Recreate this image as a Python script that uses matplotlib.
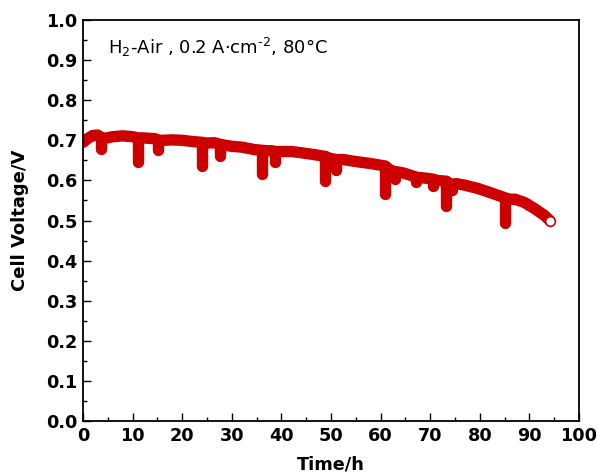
import matplotlib
matplotlib.use("Agg")
import matplotlib.pyplot as plt
from matplotlib.ticker import MultipleLocator, FormatStrFormatter

plt.rcParams['font.family'] = ['DejaVu Sans']
plt.rcParams['mathtext.fontset'] = 'dejavusans'
plt.rcParams['path.simplify'] = False

# main voltage trace (h, V)
time_h = [0, 1, 2, 3, 3.7, 4.8, 6, 8, 10, 11.1, 12.0, 14.5, 15.1, 16, 18, 20, 22, 23.9,
          24.8, 26.5, 27.6, 28.5, 30, 32, 34.5, 36.1, 37, 38, 38.7, 39.6, 42, 44, 46.8,
          48.7, 49.8, 51.1, 52.5, 55, 58, 60.9, 62, 62.9, 64, 65, 67.2, 68, 69.5, 70.6,
          71.3, 73.2, 74.0, 74.4, 75.2, 77, 79.6, 82, 85.0, 86, 87.1, 89, 91, 93, 94.1]
voltage_v = [0.695, 0.705, 0.712, 0.713, 0.705, 0.706, 0.709, 0.711, 0.709, 0.706, 0.706, 0.704, 0.700, 0.700, 0.701, 0.700, 0.697, 0.695,
             0.693, 0.694, 0.690, 0.688, 0.685, 0.683, 0.677, 0.675, 0.674, 0.674, 0.672, 0.672, 0.672, 0.669, 0.664,
             0.660, 0.655, 0.652, 0.652, 0.647, 0.642, 0.636, 0.625, 0.622, 0.620, 0.617, 0.608, 0.607, 0.605, 0.603,
             0.600, 0.598, 0.590, 0.590, 0.592, 0.588, 0.580, 0.570, 0.557, 0.553, 0.553, 0.545, 0.530, 0.513, 0.500]

# short voltage drops (refresh events): time, level before drop, minimum
dip_time = [3.7, 11.1, 15.1, 23.9, 27.6, 36.1, 38.7, 48.7, 51.1, 60.9, 62.9, 67.2, 70.6, 73.2, 74.4, 85.0]
dip_top = [0.705, 0.706, 0.700, 0.695, 0.690, 0.675, 0.672, 0.660, 0.652, 0.636, 0.622, 0.608, 0.603, 0.598, 0.590, 0.557]
dip_min = [0.678, 0.646, 0.676, 0.635, 0.662, 0.615, 0.646, 0.598, 0.626, 0.567, 0.603, 0.595, 0.585, 0.536, 0.577, 0.493]

x_ticks = [0, 10, 20, 30, 40, 50, 60, 70, 80, 90, 100]
y_ticks = [0.0, 0.1, 0.2, 0.3, 0.4, 0.5, 0.6, 0.7, 0.8, 0.9, 1.0]

red = '#CC0000'

fig = plt.figure(figsize=(5.97, 4.74), dpi=100)
ax = fig.add_axes([83/597, 53/474, (579-83)/597, (421-20)/474])

ax.plot(time_h, voltage_v, color=red, lw=8.2, solid_capstyle='round', solid_joinstyle='round', zorder=2)
ax.vlines(dip_time, dip_min, dip_top, colors=red, linewidth=8.2, capstyle='round', zorder=2)
ax.plot([time_h[-1]], [voltage_v[-1]], 'o', ms=7, mfc='white', mec=red, mew=1.2, zorder=3)

ax.set_xlim(0, 100)
ax.set_ylim(0, 1.0)
ax.set_xticks(x_ticks)
ax.set_yticks(y_ticks)
ax.xaxis.set_minor_locator(MultipleLocator(5))
ax.yaxis.set_minor_locator(MultipleLocator(0.05))
ax.yaxis.set_major_formatter(FormatStrFormatter('%.1f'))
ax.tick_params(which='both', direction='in', top=False, right=False, width=1.0)
ax.tick_params(which='major', length=6, labelsize=12.7, pad=4)
ax.tick_params(which='minor', length=3)
for lab in ax.get_xticklabels() + ax.get_yticklabels():
    lab.set_fontweight('bold')
for s in ax.spines.values():
    s.set_linewidth(1.3)

ax.set_xlabel('Time/h', fontsize=12.7, fontweight='bold', labelpad=8)
ax.set_ylabel('Cell Voltage/V', fontsize=13, fontweight='bold', labelpad=12)

ax.text(0.05, 0.96, r'H$_2$-Air , 0.2 A·cm$^{\text{-2}}$, 80°C', transform=ax.transAxes,
        fontsize=13, ha='left', va='top')

fig.savefig('out.png', dpi=100)
